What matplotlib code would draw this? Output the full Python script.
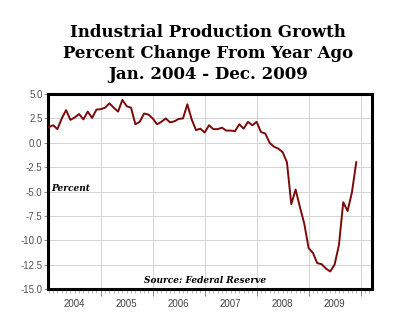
import matplotlib
matplotlib.use('Agg')
import matplotlib.pyplot as plt
import numpy as np

# monthly YoY % change, Jan 2004 - Dec 2009
ip_2004 = [1.6, 1.8, 1.4, 2.5, 3.35, 2.35, 2.6, 2.95, 2.4, 3.2, 2.55, 3.4]
ip_2005 = [3.45, 3.6, 4.05, 3.6, 3.2, 4.4, 3.75, 3.6, 1.9, 2.15, 3.0, 2.9]
ip_2006 = [2.5, 1.9, 2.15, 2.5, 2.1, 2.2, 2.45, 2.5, 3.95, 2.4, 1.3, 1.45]
ip_2007 = [1.05, 1.8, 1.4, 1.4, 1.55, 1.25, 1.25, 1.2, 1.9, 1.45, 2.15, 1.8]
ip_2008 = [2.15, 1.1, 0.95, 0.0, -0.4, -0.6, -0.95, -2.0, -6.3, -4.8, -6.6, -8.3]
ip_2009 = [-10.8, -11.3, -12.35, -12.45, -12.9, -13.2, -12.5, -10.5, -6.1, -7.0, -5.1, -2.0]

years = [2004, 2005, 2006, 2007, 2008, 2009]
y_ticks = [5.0, 2.5, 0.0, -2.5, -5.0, -7.5, -10.0, -12.5, -15.0]

values = ip_2004 + ip_2005 + ip_2006 + ip_2007 + ip_2008 + ip_2009
dates = 2004 + np.arange(len(values)) / 12.0

fig = plt.figure(figsize=(4.0, 3.26), dpi=100)
ax = fig.add_axes([0.12, 0.1135, 0.81, 0.598])

ax.plot(dates, values, color='#7a0a0a', lw=1.4, zorder=3)

ax.set_xlim(2003.985, 2010.22)
ax.set_ylim(-15, 5)

ax.set_yticks(y_ticks)
ax.set_yticklabels([f'{v:.1f}' for v in y_ticks])
ax.set_xticks(years[1:] + [2010])
ax.set_xticks(2004 + np.arange(0, 75) / 12.0, minor=True)
ax.set_xticklabels([])
for y in years:
    ax.text(y + 0.5, -16.5, str(y), ha='center', va='center', fontsize=7,
            color='#444444', family='Liberation Sans')

ax.grid(True, which='major', color='#d4d4d4', lw=0.7)
ax.tick_params(axis='y', labelsize=7, labelcolor='#555555', color='#777777',
               length=3, width=0.6, direction='out', pad=1)
ax.tick_params(axis='x', which='major', color='#777777', length=5, width=0.6)
ax.tick_params(axis='x', which='minor', color='#999999', length=3, width=0.5)
for lab in ax.get_yticklabels():
    lab.set_family('Liberation Sans')

for s in ax.spines.values():
    s.set_linewidth(2.2)
    s.set_color('black')

ax.text(2004.05, -4.65, 'Percent', fontsize=6.5, style='italic', weight='bold',
        family='DejaVu Serif', ha='left', va='center')
ax.text(2007.0, -14.1, 'Source: Federal Reserve', fontsize=6.5, style='italic',
        weight='bold', family='DejaVu Serif', ha='center', va='center')

title = 'Industrial Production Growth\nPercent Change From Year Ago\nJan. 2004 - Dec. 2009'
fig.text(0.52, 0.835, title, ha='center', va='center', fontsize=12,
         weight='bold', family='DejaVu Serif', linespacing=1.3)

fig.savefig('out.png', dpi=100, facecolor='white')
